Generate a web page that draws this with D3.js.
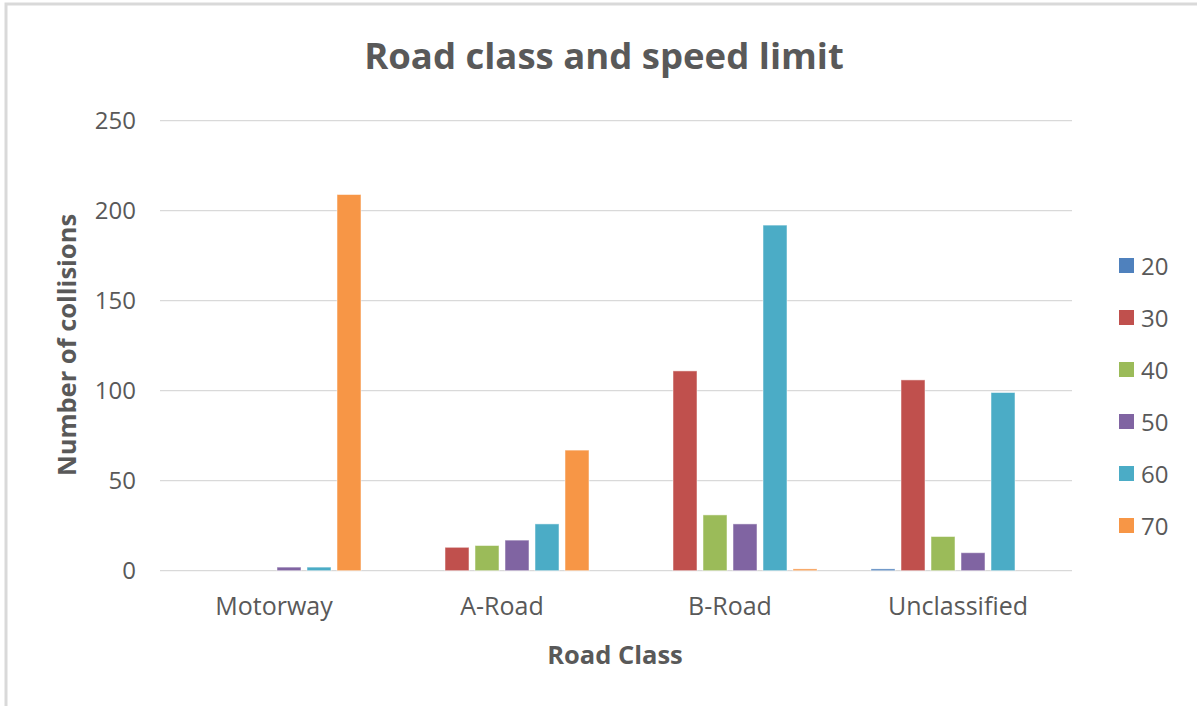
<!DOCTYPE html>
<html>
<head>
<meta charset="utf-8">
<script src="https://cdn.jsdelivr.net/npm/d3@7"></script>
<style>
  body { margin: 0; background: #fff; }
  svg text { font-family: "Open Sans", sans-serif; fill: #595959; }
</style>
</head>
<body>
<div id="chart"></div>
<script>
const roadClasses = ["Motorway", "A-Road", "B-Road", "Unclassified"];
const speedLimits = ["20", "30", "40", "50", "60", "70"];
// collisions per road class, one array per speed limit
const limit20 = [0, 0, 0, 1];
const limit30 = [0, 13, 111, 106];
const limit40 = [0, 14, 31, 19];
const limit50 = [2, 17, 26, 10];
const limit60 = [2, 26, 192, 99];
const limit70 = [209, 67, 1, 0];
const yTicks = [0, 50, 100, 150, 200, 250];

const seriesValues = [limit20, limit30, limit40, limit50, limit60, limit70];

const width = 1197, height = 706;
const margin = {top: 120, right: 125, bottom: 136, left: 160};

const svg = d3.select("#chart").append("svg")
    .attr("width", width)
    .attr("height", height);

// outer frame of the chart area (only left/top fit in the picture)
svg.append("rect")
    .attr("x", 6).attr("y", 4)
    .attr("width", 1300).attr("height", 800)
    .attr("fill", "none")
    .attr("stroke", "#d9d9d9")
    .attr("stroke-width", 3);

const color = d3.scaleOrdinal()
    .domain(speedLimits)
    .range(["#4f81bd", "#c0504d", "#9bbb59", "#8064a2", "#4bacc6", "#f79646"]);

const x0 = d3.scaleBand()
    .domain(roadClasses)
    .range([margin.left, width - margin.right])
    .padding(0);

const x1 = d3.scaleBand()
    .domain(speedLimits)
    .range([0, x0.bandwidth()])
    .paddingInner(0.2)
    .paddingOuter(0.9);

const y = d3.scaleLinear()
    .domain([0, 250])
    .range([height - margin.bottom + 0.7, margin.top + 0.7]);

// gridlines
svg.append("g")
    .selectAll("line")
    .data(yTicks)
    .join("line")
    .attr("x1", x0.range()[0])
    .attr("x2", x0.range()[1])
    .attr("y1", d => y(d))
    .attr("y2", d => y(d))
    .attr("stroke", "#d9d9d9")
    .attr("stroke-width", 1.3);

// y tick labels
svg.append("g")
    .selectAll("text")
    .data(yTicks)
    .join("text")
    .attr("x", 136)
    .attr("y", d => y(d))
    .attr("dy", "0.36em")
    .attr("text-anchor", "end")
    .style("font-size", "24px")
    .text(d => d);

// bars
const rows = roadClasses.map((rc, i) => ({
    road: rc,
    values: speedLimits.map((s, j) => ({key: s, value: seriesValues[j][i]}))
}));

const groups = svg.append("g")
    .selectAll("g")
    .data(rows)
    .join("g")
    .attr("transform", d => `translate(${x0(d.road)},0)`);

groups.selectAll("rect")
    .data(d => d.values.filter(v => v.value > 0))
    .join("rect")
    .attr("x", d => x1(d.key))
    .attr("y", d => y(d.value))
    .attr("width", x1.bandwidth())
    .attr("height", d => y(0) - y(d.value))
    .attr("fill", d => color(d.key))
    .attr("stroke", "#fff")
    .attr("stroke-opacity", 0.5)
    .attr("stroke-width", 1);

// x labels
svg.append("g")
    .selectAll("text")
    .data(roadClasses)
    .join("text")
    .attr("x", d => x0(d) + x0.bandwidth() / 2)
    .attr("y", 615)
    .attr("text-anchor", "middle")
    .style("font-size", "25px")
    .text(d => d);

// title
svg.append("text")
    .attr("x", 604)
    .attr("y", 69)
    .attr("text-anchor", "middle")
    .style("font-size", "36.5px")
    .style("font-weight", "bold")
    .text("Road class and speed limit");

// axis titles
svg.append("text")
    .attr("x", 615)
    .attr("y", 664)
    .attr("text-anchor", "middle")
    .style("font-size", "25.5px")
    .style("font-weight", "bold")
    .text("Road Class");

svg.append("text")
    .attr("transform", "rotate(-90)")
    .attr("x", -345)
    .attr("y", 76)
    .attr("text-anchor", "middle")
    .style("font-size", "25.5px")
    .style("font-weight", "bold")
    .text("Number of collisions");

// legend
const legend = svg.append("g")
    .attr("transform", "translate(1119, 258)");

const items = legend.selectAll("g")
    .data(speedLimits)
    .join("g")
    .attr("transform", (d, i) => `translate(0, ${i * 52})`);

items.append("rect")
    .attr("width", 15)
    .attr("height", 15)
    .attr("fill", d => color(d));

items.append("text")
    .attr("x", 22)
    .attr("y", 8)
    .attr("dy", "0.36em")
    .style("font-size", "24px")
    .text(d => d);
</script>
</body>
</html>
